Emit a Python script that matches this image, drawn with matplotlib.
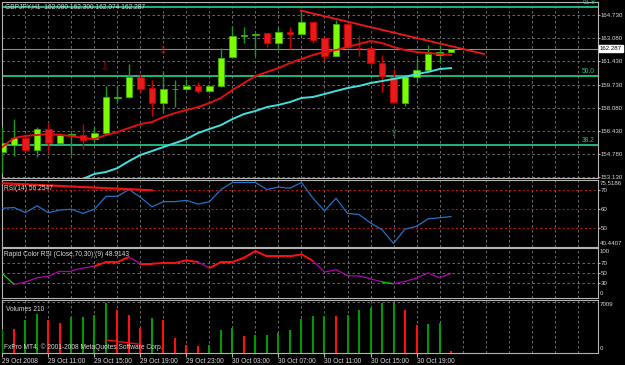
import numpy as np
import matplotlib
matplotlib.use('Agg')
import matplotlib.pyplot as plt
from matplotlib.patches import Rectangle

plt.rcParams['font.family'] = ['Liberation Sans', 'DejaVu Sans']

# ---- data (GBPJPY H1, 29-30 Oct 2008) ----
opens  = [154.90, 155.40, 155.90, 155.04, 156.55, 155.54, 156.15, 156.12, 155.83, 156.26,
          158.80, 158.84, 160.27, 159.48, 158.41, 159.38, 159.41, 159.63, 159.27, 159.63,
          161.70, 163.24, 163.31, 163.42, 162.70, 163.49, 163.35, 164.21, 163.06, 161.77,
          164.07, 162.38, 162.35, 161.27, 160.27, 158.41, 160.27, 160.77, 161.85, 162.080]
highs  = [156.69, 157.26, 155.97, 156.69, 156.98, 156.26, 156.33, 156.90, 156.69, 159.63,
          159.63, 161.20, 160.48, 160.05, 160.70, 160.05, 160.13, 159.91, 159.70, 162.35,
          163.92, 163.85, 163.42, 163.45, 163.85, 163.85, 165.07, 164.25, 163.10, 164.35,
          164.10, 163.28, 162.38, 161.85, 160.84, 160.30, 161.63, 162.56, 162.56, 162.300]
lows   = [153.40, 154.61, 154.97, 154.54, 154.90, 155.47, 154.69, 155.12, 155.62, 156.12,
          158.41, 158.77, 159.20, 157.48, 157.69, 158.12, 159.34, 159.12, 159.27, 159.55,
          161.63, 162.70, 161.77, 162.42, 162.20, 162.27, 163.28, 162.70, 161.42, 161.74,
          162.35, 161.77, 160.99, 159.20, 158.44, 158.19, 159.91, 160.70, 161.27, 162.074]
closes = [155.54, 155.90, 155.04, 156.55, 155.54, 156.12, 156.19, 155.76, 156.26, 158.84,
          158.84, 160.27, 159.41, 158.41, 159.41, 159.41, 159.63, 159.27, 159.63, 161.63,
          163.21, 163.28, 163.35, 162.70, 163.49, 163.35, 164.21, 162.92, 161.77, 164.07,
          162.42, 162.35, 161.27, 160.34, 158.48, 160.27, 160.77, 161.92, 162.06, 162.287]

ma_red = [155.26, 155.90, 156.05, 156.12, 156.19, 156.12, 156.05, 155.90, 155.83, 156.12,
          156.33, 156.62, 156.90, 157.05, 157.41, 157.69, 157.91, 158.12, 158.41, 158.77,
          159.34, 159.84, 160.34, 160.63, 160.91, 161.27, 161.56, 161.85, 162.06, 162.20,
          162.42, 162.63, 162.85, 162.70, 162.42, 162.20, 162.06, 161.99, 161.92, 161.85]
ma_cyan_start = 7
ma_cyan = [152.98, 153.33, 153.47, 153.75, 154.25, 154.69, 154.97, 155.26, 155.54, 155.83,
           156.26, 156.55, 156.83, 157.26, 157.62, 157.84, 158.12, 158.27, 158.48, 158.77,
           158.84, 159.05, 159.27, 159.48, 159.63, 159.84, 159.98, 160.13, 160.27, 160.48,
           160.63, 160.84, 160.91]

fib_levels = [165.28, 160.34, 155.40]
fib_labels = ['61.8', '50.0', '38.2']
trend_x = [25.96, 41.87]
trend_y = [165.02, 161.92]
arrows_down = [(8.85, 160.99), (13.87, 162.13)]
arrows_up = [(33.96, 156.26)]

price_ticks = [164.73, 163.08, 161.43, 159.73, 158.08, 156.43, 154.78, 153.13]
last_price = 162.287

rsi = [60.6, 61.0, 58.3, 61.9, 58.3, 59.7, 60.1, 57.9, 60.1, 66.9,
       66.9, 70.5, 66.4, 61.4, 64.1, 64.1, 64.8, 62.8, 64.1, 70.5,
       74.2, 74.2, 74.2, 70.5, 71.8, 71.2, 74.2, 65.9, 59.2, 65.9,
       57.9, 57.3, 52.9, 49.3, 42.1, 49.6, 51.1, 55.0, 55.6, 56.25]
rsi_trend_x = [0.0, 13.0]
rsi_trend_y = [73.8, 70.1]

rapid = [48.6, 27.3, 32.0, 40.6, 43.3, 54.0, 54.0, 60.0, 63.3, 72.0,
         72.0, 82.0, 68.6, 68.6, 70.0, 70.0, 75.3, 72.0, 60.0, 72.0,
         72.0, 80.6, 94.0, 83.3, 83.3, 83.3, 87.3, 74.0, 52.0, 56.6,
         44.6, 44.0, 38.6, 32.0, 28.6, 33.3, 40.0, 50.0, 40.6, 48.91]
rapid_seg = 'g' + 'm' * 7 + 'r' * 3 + 'm' + 'r' * 5 + 'm' + 'r' * 9 + 'm' * 6 + 'g' + 'm' * 5

volumes = [3363, 3270, 4577, 5370, 4577, 4203, 4997, 4997, 5230, 6950,
           5978, 5230, 3456, 4904, 4577, 2100, 1027, 934, 1027, 3176,
           3503, 2335, 2428, 2428, 2709, 3176, 4763, 5137, 5137, 5100,
           5277, 5978, 6211, 6912, 7009, 5978, 3829, 4063, 4110, 210]
vol_trend_x = [9.0, 11.96]
vol_trend_y = [1780, 1178]

time_pos = [0, 4, 8, 12, 16, 20, 24, 28, 32, 36]
time_labels = ['29 Oct 2008', '29 Oct 11:00', '29 Oct 15:00', '29 Oct 19:00', '29 Oct 23:00',
               '30 Oct 03:00', '30 Oct 07:00', '30 Oct 11:00', '30 Oct 15:00', '30 Oct 19:00']

# ---- style ----
W, H = 625, 365
border_c = '#B4B4B4'
grid_c = '#7A7A7A'
txt_c = '#DADADA'
fib_c = '#22C486'
fs = 4.4

fig = plt.figure(figsize=(W / 100, H / 100), dpi=100, facecolor='black')
x_lo, x_hi = -0.04, 51.78


def panel(top, bottom):
    ax = fig.add_axes([2 / W, 1 - bottom / H, 596 / W, (bottom - top) / H])
    ax.set_facecolor('black')
    ax.set_xlim(x_lo, x_hi)
    for s in ax.spines.values():
        s.set_color(border_c)
        s.set_linewidth(0.8)
    ax.set_xticks([])
    ax.yaxis.tick_right()
    ax.tick_params(axis='y', colors=border_c, labelcolor=txt_c, labelsize=fs, length=1.5, pad=0.6)
    for i in range(2, 52, 2):
        ax.axvline(i, color=grid_c, lw=0.6, ls=(0, (3, 3)), zorder=0)
    return ax


# main price panel
ax = panel(2, 178)
ax.set_ylim(153.04, 165.64)
ax.set_yticks(price_ticks)
ax.set_yticklabels(['%.3f' % p for p in price_ticks])
for p in price_ticks:
    ax.axhline(p, color=grid_c, lw=0.6, ls=(0, (3, 3)), zorder=0)
for lv, lb in zip(fib_levels, fib_labels):
    ax.axhline(lv, color=fib_c, lw=1.3, zorder=1)
    ax.text(0.995, lv + 0.05, lb, transform=ax.get_yaxis_transform(), ha='right', va='bottom',
            color=fib_c, fontsize=4.8)
ax.axhline(last_price, color='#8C8C8C', lw=0.8, zorder=1)
ax.text(1.003, last_price, '%.3f' % last_price, transform=ax.get_yaxis_transform(),
        ha='left', va='center', color='black', fontsize=fs,
        bbox=dict(facecolor='white', edgecolor='white', pad=0.6), clip_on=False)

for i in range(len(opens)):
    o, h, l, c = opens[i], highs[i], lows[i], closes[i]
    bull = c >= o
    wick = '#1F9A1F' if bull else '#C80000'
    face = '#7CFC00' if bull else '#E8191A'
    edge = '#3DB000' if bull else '#D00000'
    ax.vlines(i, l, h, color=wick, lw=1.0, zorder=3)
    lo_b = min(o, c)
    hb = max(abs(c - o), 0.03)
    ax.add_patch(Rectangle((i - 0.3, lo_b), 0.6, hb, facecolor=face, edgecolor=edge,
                           lw=0.6, zorder=4))

ax.plot(range(len(ma_red)), ma_red, color='#E01010', lw=1.4, zorder=5)
ax.plot(range(ma_cyan_start, ma_cyan_start + len(ma_cyan)), ma_cyan, color='#3FE0E0', lw=1.4, zorder=5)
ax.plot(trend_x, trend_y, color='#F01818', lw=1.3, zorder=6)
for x, y in arrows_down:
    ax.text(x, y, '\u21e9', color='#A01515', fontsize=7, ha='center', va='center',
            family='DejaVu Sans', zorder=6)
for x, y in arrows_up:
    ax.text(x, y, '\u21e7', color='#2E9B2E', fontsize=7, ha='center', va='center',
            family='DejaVu Sans', zorder=6)
fig.text(5 / W, 1 - 7 / H, 'GBPJPY,H1  162.080 162.300 162.074 162.287', color=txt_c,
         fontsize=4.8, va='center', ha='left')

# RSI panel
ax_r = panel(180, 246.5)
ax_r.set_ylim(40.4407, 75.5186)
ax_r.set_yticks([70, 60, 50])
ax_r.set_yticklabels(['70', '60', '50'])
for lv in [70, 60, 50]:
    ax_r.axhline(lv, color='#B01010', lw=0.8, ls=(0, (2, 2)), zorder=1)
ax_r.plot(range(len(rsi)), rsi, color='#2372C4', lw=0.9, zorder=3)
ax_r.plot(rsi_trend_x, rsi_trend_y, color='#F01010', lw=1.6, zorder=4)
ax_r.text(1.003, 0.99, '75.5186', transform=ax_r.transAxes, color=txt_c, fontsize=fs, va='top', ha='left')
ax_r.text(1.003, 0.01, '40.4407', transform=ax_r.transAxes, color=txt_c, fontsize=fs, va='bottom', ha='left')
ax_r.text(0.004, 0.87, 'RSI(14) 56.2547', transform=ax_r.transAxes, color=txt_c, fontsize=4.8,
          va='center', ha='left', zorder=6)

# Rapid colour RSI panel
ax_c = panel(248, 298)
ax_c.set_ylim(0, 100)
ax_c.set_yticks([70, 50, 30])
ax_c.set_yticklabels(['70', '50', '30'])
for lv in [70, 50, 30]:
    ax_c.axhline(lv, color=grid_c, lw=0.6, ls=(0, (3, 3)), zorder=0)
seg_colors = {'g': '#10D010', 'm': '#B000B0', 'r': '#FF1010'}
for k, cc in enumerate(rapid_seg):
    ax_c.plot([k, k + 1], [rapid[k], rapid[k + 1]], color=seg_colors[cc],
              lw=1.4 if cc == 'r' else 0.9, zorder=3, solid_capstyle='round')
ax_c.text(1.003, 0.98, '100', transform=ax_c.transAxes, color=txt_c, fontsize=fs, va='top', ha='left')
ax_c.text(1.003, 0.04, '0', transform=ax_c.transAxes, color=txt_c, fontsize=fs, va='bottom', ha='left')
ax_c.text(0.004, 0.87, 'Rapid Color RSI (Close,70,30) (9) 48.9143', transform=ax_c.transAxes,
          color=txt_c, fontsize=4.8, va='center', ha='left', zorder=6)

# Volumes panel
ax_v = panel(300, 352.7)
ax_v.set_ylim(0, 7380)
ax_v.set_yticks([])
ax_v.axhline(7380 * 0.97, color=grid_c, lw=0.6, ls=(0, (3, 3)), zorder=0)
vcols = ['#009A00' if i == 0 or volumes[i] >= volumes[i - 1] else '#FF1010'
         for i in range(len(volumes))]
ax_v.vlines(range(len(volumes)), 0, volumes, colors=vcols, lw=1.5, zorder=3)
ax_v.plot(vol_trend_x, vol_trend_y, color='#F01010', lw=1.0, zorder=4)
ax_v.text(1.003, 0.97, '7009', transform=ax_v.transAxes, color=txt_c, fontsize=fs, va='top', ha='left')
ax_v.text(1.003, 0.03, '0', transform=ax_v.transAxes, color=txt_c, fontsize=fs, va='bottom', ha='left')
ax_v.text(0.006, 0.82, 'Volumes 210', transform=ax_v.transAxes, color=txt_c, fontsize=4.8,
          va='center', ha='left', zorder=6)
ax_v.text(0.004, 0.1, 'FxPro MT4, \u00a9 2001-2008 MetaQuotes Software Corp.', transform=ax_v.transAxes,
          color=txt_c, fontsize=4.8, va='center', ha='left', zorder=6)
ax_v.set_xticks(time_pos)
ax_v.set_xticklabels(time_labels, ha='left')
ax_v.tick_params(axis='x', colors=border_c, labelcolor=txt_c, labelsize=4.8, length=3, pad=1)

fig.savefig('out.png', dpi=100, facecolor='black')
